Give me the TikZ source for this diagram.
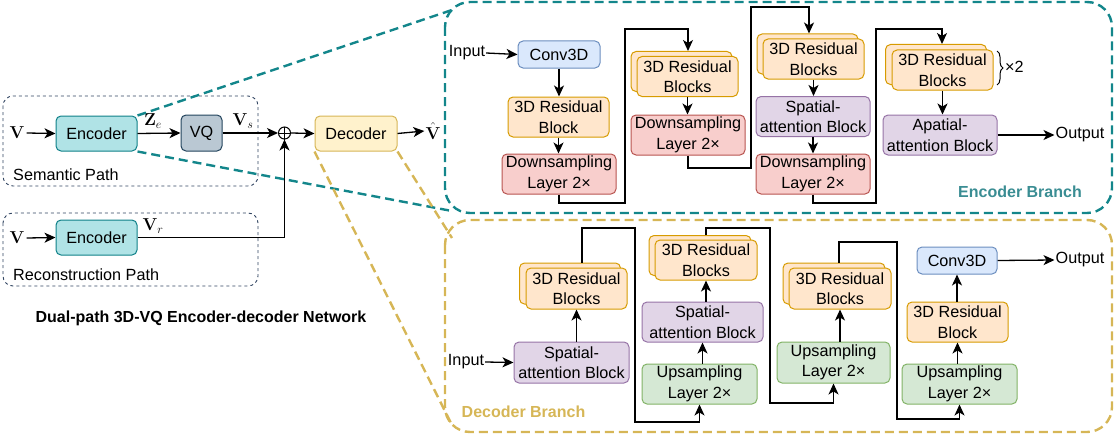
\documentclass[tikz,border=0pt]{standalone}
\usepackage[no-math]{fontspec}
\setmainfont{Liberation Sans}
\usetikzlibrary{arrows.meta,calc,decorations.pathreplacing}
\definecolor{encF}{HTML}{B0E3E6}\definecolor{encB}{HTML}{0E8088}
\definecolor{vqF}{HTML}{BAC8D3}\definecolor{vqB}{HTML}{23445D}
\definecolor{decF}{HTML}{FFF2CC}\definecolor{decB}{HTML}{D6B656}
\definecolor{convF}{HTML}{DAE8FC}\definecolor{convB}{HTML}{6C8EBF}
\definecolor{resF}{HTML}{FFE6CC}\definecolor{resB}{HTML}{D79B00}
\definecolor{dsF}{HTML}{F8CECC}\definecolor{dsB}{HTML}{B85450}
\definecolor{attF}{HTML}{E1D5E7}\definecolor{attB}{HTML}{9673A6}
\definecolor{upF}{HTML}{D5E8D4}\definecolor{upB}{HTML}{82B366}
\definecolor{tealD}{HTML}{13868B}\definecolor{tealT}{HTML}{3A8D93}
\definecolor{goldD}{HTML}{D6B656}\definecolor{pathD}{HTML}{2F4360}
\newcommand\fs{\fontsize{16.2}{20.5}\selectfont}
\newcommand\mfs{\fontsize{17.28}{20}\selectfont}
\tikzset{arr/.style={line width=1.3pt, -{Stealth[length=11pt,width=10pt,inset=3pt]}}}
\begin{document}
\begin{tikzpicture}[x=1pt,y=-1pt,
  box/.style={draw, rounded corners=5pt, line width=1pt, align=center, inner sep=0pt, font=\fs},
  encbox/.style={box, fill=encF, draw=encB},
  vqbox/.style={box, fill=vqF, draw=vqB},
  decbox/.style={box, fill=decF, draw=decB},
  convbox/.style={box, fill=convF, draw=convB, minimum height=27pt},
  resbox/.style={box, fill=resF, draw=resB, minimum width=101pt, minimum height=40pt},
  dsbox/.style={box, fill=dsF, draw=dsB, minimum width=114pt, minimum height=40pt},
  attbox/.style={box, fill=attF, draw=attB, minimum width=114pt, minimum height=40pt},
  upbox/.style={box, fill=upF, draw=upB, minimum width=115pt, minimum height=40pt},
  lbl/.style={inner sep=1pt, font=\fs},
  mlbl/.style={inner sep=2pt, font=\mfs},
  pathbox/.style={draw=pathD, dash pattern=on 3pt off 3pt, line width=0.9pt, rounded corners=10pt},
  branchbox/.style={dash pattern=on 9pt off 5pt, line width=2.4pt, rounded corners=25pt},
  zoomline/.style={line width=2.4pt, dash pattern=on 9pt off 5pt},
]
\useasboundingbox (0,0) rectangle (1115,436);

% branch frames
\draw[branchbox, draw=tealD] (445,2) rectangle (1112,213);
\draw[branchbox, draw=goldD] (445,220) rectangle (1112,432);
\coordinate (eTL) at (452,10);
\coordinate (eBL) at (452,211);
\coordinate (dTL) at (452,238);
\coordinate (dBL) at (452,425);

% path frames
\draw[pathbox] (3,96) rectangle (258,186);
\draw[pathbox] (3,213) rectangle (258,286);
\node[lbl, anchor=west] (semL) at (12,175) {Semantic Path};
\node[lbl, anchor=west] (recL) at (12,275) {Reconstruction Path};

% left network
\node[mlbl] (v1) at (17,133) {$\mathbf{V}$};
\node[encbox, minimum width=81pt, minimum height=35pt] (enc1) at (96.5,133.5) {Encoder};
\node[vqbox, minimum width=41pt, minimum height=36pt] (vq) at (201.5,133) {VQ};
\node[circle, draw, line width=1pt, minimum size=12pt, inner sep=0pt] (plus) at (284.5,133) {};
\draw[line width=1pt] (plus.north) -- (plus.south) (plus.west) -- (plus.east);
\node[decbox, minimum width=82pt, minimum height=35pt] (dec) at (356,133.5) {Decoder};
\node[mlbl, inner sep=1pt] (vhat) at (433,131) {$\hat{\mathbf{V}}$};
\node[mlbl] (v2) at (17,238) {$\mathbf{V}$};
\node[encbox, minimum width=81pt, minimum height=35pt] (enc2) at (96.5,237.5) {Encoder};
\node[mlbl] (ze) at (153,121) {$\mathbf{Z}_e$};
\node[mlbl] (vs) at (243,121) {$\mathbf{V}_s$};
\node[mlbl] (vr) at (153,226) {$\mathbf{V}_r$};

\draw[arr] (v1.east) -- (enc1.west);
\draw[arr] (enc1.east) -- (vq.west);
\draw[arr] (vq.east) -- (plus.west);
\draw[arr] (plus.east) -- (dec.west);
\draw[arr] (dec.east) -- (vhat.west);
\draw[arr] (v2.east) -- (enc2.west);
\draw[arr] (enc2.east) -| (plus.south);

\draw[zoomline, tealD] (enc1.north east) -- (eTL);
\draw[zoomline, tealD] (enc1.south east) -- (eBL);
\draw[zoomline, goldD] (dec.south east) -- (dTL);
\draw[zoomline, goldD] (dec.south west) -- (dBL);

\node[font=\fontsize{16}{19}\selectfont\bfseries] (title) at (201,318) {Dual-path 3D-VQ Encoder-decoder Network};

% ---------------- encoder branch
\node[lbl] (eIn) at (467,53) {Input};
\node[convbox, minimum width=82pt] (eC) at (559,54.5) {Conv3D};
\node[resbox] (eR1) at (558.5,117) {3D Residual\\Block};
\node[dsbox] (eD1) at (559,174) {Downsampling\\Layer 2×};
\node[resbox] (eR2b) at (681.5,71.5) {};
\node[resbox] (eR2) at (687.5,76.5) {3D Residual\\Blocks};
\node[dsbox] (eD2) at (688,135) {Downsampling\\Layer 2×};
\node[resbox] (eR3b) at (807.5,54) {};
\node[resbox] (eR3) at (813.5,59) {3D Residual\\Blocks};
\node[attbox] (eS3) at (813,116.5) {Spatial-\\attention Block};
\node[dsbox] (eD3) at (813,174) {Downsampling\\Layer 2×};
\node[resbox] (eR4b) at (936,64.5) {};
\node[resbox] (eR4) at (942.5,70) {3D Residual\\Blocks};
\node[attbox] (eS4) at (940,135) {Apatial-\\attention Block};
\node[lbl] (eOut) at (1080,135) {Output};
\draw[decorate, decoration={brace, amplitude=6pt}, line width=1pt] (997,51) -- (997,85);
\node[lbl, anchor=west] (x2) at (1004,67) {×2};
\node[font=\fontsize{16}{19}\selectfont\bfseries, text=tealT] (eTitle) at (1020,192) {Encoder Branch};

\coordinate (k1) at (625,203);
\coordinate (k2) at (688,29);
\coordinate (k3) at (751,168);
\coordinate (k4) at (809,7);
\coordinate (k5) at (876,203);
\coordinate (k6) at (942,29);

\draw[arr] (eIn.east) -- (eC.west);
\draw[arr] (eC.south) -- (eC.south |- eR1.north);
\draw[arr] (eR1.south) -- (eR1.south |- eD1.north);
\draw[arr] (eD1.south) |- (k1) |- (k2) -- (k2 |- eR2b.north);
\draw[arr] (eR2.south) -- (eR2.south |- eD2.north);
\draw[arr] (eD2.south) |- (k3) |- (k4) -- (k4 |- eR3b.north);
\draw[arr] (eR3.south) -- (eR3.south |- eS3.north);
\draw[arr] (eS3.south) -- (eS3.south |- eD3.north);
\draw[arr] (eD3.south) |- (k5) |- (k6) -- (k6 |- eR4b.north);
\draw[arr] (eR4.south) -- (eR4.south |- eS4.north);
\draw[arr] (eS4.east) -- (eOut.west);

% ---------------- decoder branch
\node[lbl] (dIn) at (466,362) {Input};
\node[attbox, minimum width=115pt, minimum height=41pt] (dS1) at (571.5,362.5) {Spatial-\\attention Block};
\node[resbox, minimum height=41pt] (dR1b) at (570,283.5) {};
\node[resbox, minimum height=41pt] (dR1) at (576.5,288.5) {3D Residual\\Blocks};
\node[upbox] (dU2) at (699.5,384) {Upsampling\\Layer 2×};
\node[attbox, minimum width=121pt] (dS2) at (702.5,322) {Spatial-\\attention Block};
\node[resbox, minimum width=102pt] (dR2b) at (700,255.5) {};
\node[resbox, minimum width=102pt] (dR2) at (706,260) {3D Residual\\Blocks};
\node[upbox, minimum width=113pt, minimum height=41pt] (dU3) at (833.5,362.5) {Upsampling\\Layer 2×};
\node[resbox, minimum width=102pt, minimum height=41pt] (dR3b) at (834,283.5) {};
\node[resbox, minimum width=102pt, minimum height=41pt] (dR3) at (840,288.5) {3D Residual\\Blocks};
\node[upbox] (dU4) at (959.5,384) {Upsampling\\Layer 2×};
\node[resbox] (dRB4) at (957.5,322) {3D Residual\\Block};
\node[convbox, minimum width=80pt] (dC4) at (957,260.5) {Conv3D};
\node[lbl] (dOut) at (1080,260) {Output};
\node[font=\fontsize{16}{19}\selectfont\bfseries, text=goldD] (dTitle) at (523.5,412) {Decoder Branch};

\coordinate (c1) at (582,228);
\coordinate (c2) at (635,422);
\coordinate (c3) at (706,228);
\coordinate (c4) at (770,403);
\coordinate (c5) at (839,242);
\coordinate (c6) at (897,419);

\draw[arr] (dIn.east) -- (dS1.west);
\draw[arr] (dR1.south |- dS1.north) -- (dR1.south);
\draw[arr] (c1 |- dR1b.north) -- (c1) -| (c2) -| (dU2.south);
\draw[arr] (dS2.south |- dU2.north) -- (dS2.south);
\draw[arr] (dR2.south |- dS2.north) -- (dR2.south);
\draw[arr] (c3 |- dR2b.north) -- (c3) -| (c4) -| (dU3.south);
\draw[arr] (dR3.south |- dU3.north) -- (dR3.south);
\draw[arr] (c5 |- dR3b.north) -- (c5) -| (c6) -| (dU4.south);
\draw[arr] (dRB4.south |- dU4.north) -- (dRB4.south);
\draw[arr] (dC4.south |- dRB4.north) -- (dC4.south);
\draw[arr] (dC4.east) -- (dOut.west);
\end{tikzpicture}
\end{document}
